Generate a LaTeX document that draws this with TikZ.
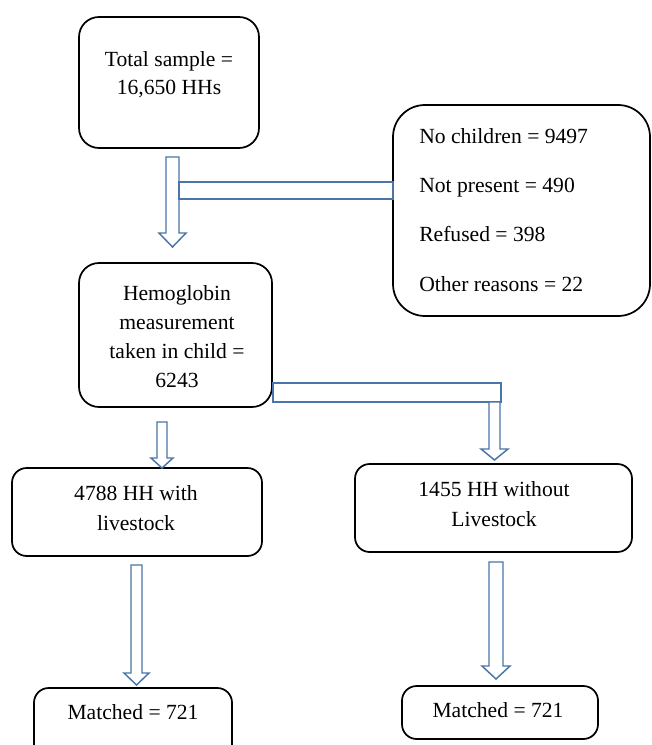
\documentclass[tikz,border=0pt]{standalone}
\usepackage{fontspec}
\setmainfont{Liberation Serif}
\usetikzlibrary{fit}
\definecolor{arrowblue}{RGB}{74,117,168}
\tikzset{
  box/.style={draw=black, line width=1.3pt, rounded corners=15pt, inner sep=0pt, fill=white},
  smallbox/.style={box, rounded corners=11pt},
  bigbox/.style={box, rounded corners=24pt},
  txt/.style={anchor=base, inner sep=0pt, font=\fontsize{16.2}{20}\selectfont},
  txtl/.style={txt, anchor=base west},
  blockarrow/.style={draw=arrowblue, line width=1.1pt, fill=white, line join=miter}
}
\begin{document}
\begin{tikzpicture}[x=0.75pt, y=-0.75pt]
\useasboundingbox (0,0) rectangle (652,745);

% ---- boxes ----
\coordinate (t1) at (79,17);   \coordinate (t2) at (259,148);
\node[box, fit=(t1)(t2)] (total) {};
\coordinate (r1) at (393,105); \coordinate (r2) at (650,316);
\node[bigbox, fit=(r1)(r2)] (excl) {};
\coordinate (h1) at (79,263);  \coordinate (h2) at (272,407);
\node[box, fit=(h1)(h2)] (hemo) {};
\coordinate (l1) at (12,468);  \coordinate (l2) at (262,556);
\node[smallbox, fit=(l1)(l2)] (with) {};
\coordinate (w1) at (355,464); \coordinate (w2) at (632,552);
\node[smallbox, fit=(w1)(w2)] (without) {};
\coordinate (m1) at (34,688);  \coordinate (m2) at (232,760);
\node[smallbox, fit=(m1)(m2)] (matchL) {};
\coordinate (n1) at (402,686); \coordinate (n2) at (598,739);
\node[smallbox, fit=(n1)(n2)] (matchR) {};

% ---- texts ----
\node[txt] (tA) at (169,67) {Total sample =};
\node[txt] (tB) at (169,95) {16,650 HHs};

\node[txtl] (e1) at (419,144) {No children = 9497};
\node[txtl] (e2) at (419,193) {Not present = 490};
\node[txtl] (e3) at (419,242) {Refused = 398};
\node[txtl] (e4) at (419,291) {Other reasons = 22};

\node[txt] (hA) at (177,300) {Hemoglobin};
\node[txt] (hB) at (177,329) {measurement};
\node[txt] (hC) at (177,358) {taken in child =};
\node[txt] (hD) at (177,387) {6243};

\node[txt] (wA) at (136,500) {4788 HH with};
\node[txt] (wB) at (136,530) {livestock};

\node[txt] (oA) at (494,496) {1455 HH without};
\node[txt] (oB) at (494,526) {Livestock};

\node[txt] (mL) at (133,719) {Matched = 721};
\node[txt] (mR) at (498,717) {Matched = 721};

% ---- block arrows ----
% from total sample down to hemoglobin, with side bar to exclusions
\draw[blockarrow] (166,157) -- (179,157) -- (179,233) -- (186,233) -- (172.5,247)
  -- (159,233) -- (166,233) -- cycle;
\draw[blockarrow] (179,182) rectangle (393,199);

% from hemoglobin to the right, then down to "without"
\draw[blockarrow] (273,383) rectangle (501,402);
\draw[blockarrow] (489,402) -- (500,402) -- (500,449) -- (508,449) -- (494.5,460)
  -- (481,449) -- (489,449) -- cycle;

% from hemoglobin down to "with"
\draw[blockarrow] (157,422) -- (167,422) -- (167,458) -- (173,458) -- (162,468)
  -- (151,458) -- (157,458) -- cycle;

% long arrows to matched
\draw[blockarrow] (131,565) -- (142,565) -- (142,673) -- (149,673) -- (136.5,685)
  -- (124,673) -- (131,673) -- cycle;
\draw[blockarrow] (489,562) -- (503,562) -- (503,666) -- (510,666) -- (496,679)
  -- (482,666) -- (489,666) -- cycle;
\end{tikzpicture}
\end{document}
